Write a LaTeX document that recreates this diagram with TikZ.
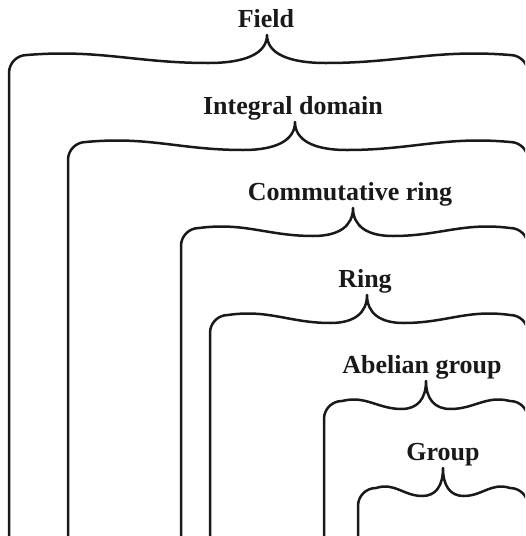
\documentclass[tikz,border=0pt]{standalone}
\usepackage{fontspec}
\setmainfont{Liberation Serif}
\tikzset{
  brc/.style={line width=2.5pt, line join=round, line cap=round, draw=black!90},
  lbl/.style={font=\fontsize{26}{30}\selectfont\bfseries, anchor=base, inner sep=0pt, text=black!90}
}
% #1 name, #2 left x, #3 tip x, #4 tip y, #5 label x, #6 text
\newcommand{\nestlevel}[6]{%
  \pgfmathsetmacro{\qL}{#2}%
  \pgfmathsetmacro{\qT}{#3}%
  \pgfmathsetmacro{\qR}{528}%
  \pgfmathsetmacro{\qyt}{#4}%
  \pgfmathsetmacro{\qyb}{#4+20}%
  \pgfmathsetmacro{\qys}{#4+28}%
  \pgfmathsetmacro{\qyv}{#4+38}%
  \pgfmathsetmacro{\qd}{2+0.22*(#3-#2)}%
  \pgfmathsetmacro{\qwl}{#3-\qd-#2-18}%
  \pgfmathsetmacro{\qwr}{\qR-18-#3-\qd}%
  \draw[brc] (\qL,536) -- (\qL,\qyv)
    .. controls (\qL,\qyb+8) and (\qL+8,\qyb) .. (\qL+18,\qyb)
    .. controls (\qL+18+0.4*\qwl,\qyb-6) and (\qT-\qd-0.4*\qwl,\qys) .. (\qT-\qd,\qys)
    .. controls (\qT-0.35*\qd,\qys) and (\qT,\qys-10) .. (\qT,\qyt)
    .. controls (\qT,\qys-10) and (\qT+0.35*\qd,\qys) .. (\qT+\qd,\qys)
    .. controls (\qT+\qd+0.4*\qwr,\qys) and (\qR-18-0.4*\qwr,\qyb-6) .. (\qR-18,\qyb)
    .. controls (\qR-8,\qyb) and (\qR,\qyb+8) .. (\qR,\qyv) -- (\qR,536);
  \node[lbl] (#1) at (#5,\qyt-8) {#6};
}
\begin{document}
\begin{tikzpicture}[x=1pt,y=-1pt]
  \useasboundingbox (0,0) rectangle (526,536);
  \begin{scope}
    \clip (0,0) rectangle (525,536);
    \nestlevel{field}{9}{267}{35}{266}{Field}
    \nestlevel{integral}{68}{295}{122}{293}{Integral domain}
    \nestlevel{commring}{181}{353}{208}{350}{Commutative ring}
    \nestlevel{ring}{210}{367}{295}{365}{Ring}
    \nestlevel{abelian}{324}{426}{381}{422}{Abelian group}
    \nestlevel{group}{358}{443}{468}{443}{Group}
  \end{scope}
\end{tikzpicture}
\end{document}
